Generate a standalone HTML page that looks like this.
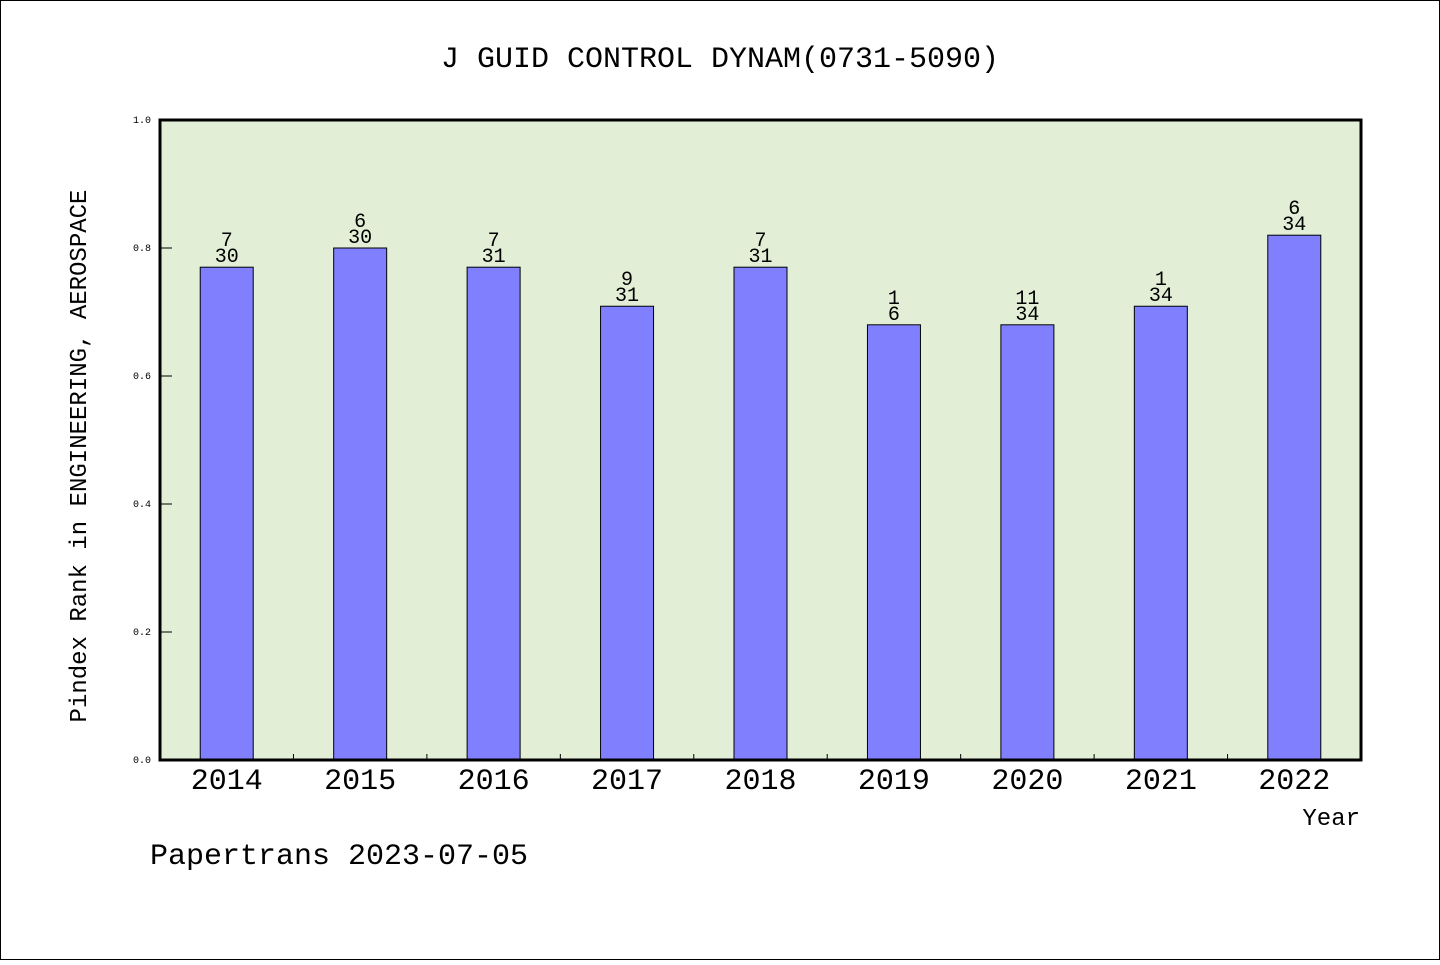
<!DOCTYPE html>
<html><head><meta charset="utf-8"><style>
body{margin:0;background:#fff}
svg text{font-family:"WenQuanYi Zen Hei","Liberation Mono",monospace}
</style></head><body>
<svg width="1440" height="960" xmlns="http://www.w3.org/2000/svg">
<rect x="0.5" y="0.5" width="1439" height="959" fill="#fff" stroke="#000"/>
<text x="720" y="67" text-anchor="middle" font-size="30">J GUID CONTROL DYNAM(0731-5090)</text>
<rect x="160" y="120" width="1201" height="640" fill="#e2efd6"/>
<g id="bars"></g>
<rect x="160" y="120" width="1201" height="640" fill="none" stroke="#000" stroke-width="3"/>
<g id="axes"></g>
<text transform="translate(86,456) rotate(-90)" text-anchor="middle" font-size="24">Pindex Rank in ENGINEERING, AEROSPACE</text>
<text x="1360" y="825" text-anchor="end" font-size="24">Year</text>
<text x="150" y="864" font-size="30">Papertrans 2023-07-05</text>
</svg>
<script>
const years=["2014","2015","2016","2017","2018","2019","2020","2021","2022"];
const values=[0.77,0.80,0.77,0.709,0.77,0.68,0.68,0.709,0.82];
const ranks=["7","6","7","9","7","1","11","1","6"];
const totals=["30","30","31","31","31","6","34","34","34"];
const yTicks=[0,0.2,0.4,0.6,0.8,1.0];
const yTickLabels=["0.0","0.2","0.4","0.6","0.8","1.0"];
const NS="http://www.w3.org/2000/svg";
const X0=160,W=1201,Y0=760,H=640;
const band=W/years.length;
const xC=i=>X0+band*(i+0.5);
const yS=v=>Y0-v*H;
const bars=document.getElementById('bars'),axes=document.getElementById('axes');
function mk(tag,attrs,parent){const e=document.createElementNS(NS,tag);for(const k in attrs)e.setAttribute(k,attrs[k]);parent.appendChild(e);return e;}
years.forEach((y,i)=>{
  const r=mk('rect',{x:xC(i)-26.5,y:yS(values[i]),width:53,height:Y0-yS(values[i]),fill:'#8080ff',stroke:'#000','stroke-width':1},bars);
  
  
  const t1=mk('text',{x:xC(i),y:yS(values[i])-21,'text-anchor':'middle','font-size':20},bars);t1.textContent=ranks[i];
  
  
  const t2=mk('text',{x:xC(i),y:yS(values[i])-5,'text-anchor':'middle','font-size':20},bars);t2.textContent=totals[i];
  
  
  const xl=mk('text',{x:xC(i),y:789,'text-anchor':'middle','font-size':30},axes);xl.textContent=y;
  
  
  if(i>0){const tk=mk('line',{x1:X0+band*i,x2:X0+band*i,y1:Y0,y2:Y0-6,stroke:'#000'},axes);
  
  }
});
yTicks.forEach((v,i)=>{
  const l=mk('line',{x1:X0,x2:X0+12,y1:yS(v),y2:yS(v),stroke:'#000'},axes);
  
  
  const t=mk('text',{x:151,y:yS(v)+3,'text-anchor':'end','font-size':10,'font-family':'Liberation Sans, sans-serif'},axes);t.textContent=yTickLabels[i];
  
  
});
</script>
</body></html>
